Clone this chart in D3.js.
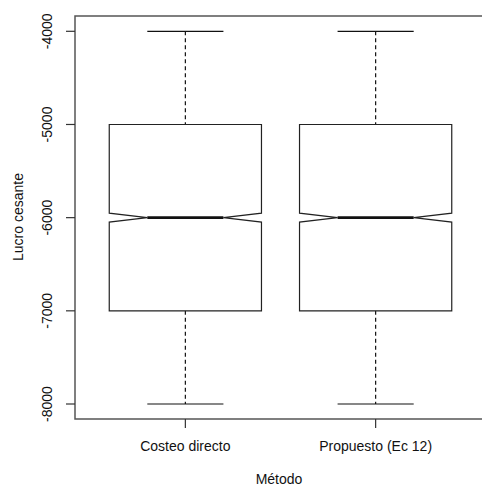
<!DOCTYPE html>
<html><head><meta charset="utf-8">
<script src="https://cdn.jsdelivr.net/npm/d3@7"></script>
<style>body{margin:0;background:#fff}svg{display:block}text{font-family:"Liberation Sans",Arial,sans-serif;fill:#111}</style>
</head><body>
<script>
const categories = ["Costeo directo", "Propuesto (Ec 12)"];
const whiskerLow = [-8000, -8000];
const q1 = [-7000, -7000];
const median = [-6000, -6000];
const q3 = [-5000, -5000];
const whiskerHigh = [-4000, -4000];
const notchHalf = [48, 48];
const yTicks = [-8000, -7000, -6000, -5000, -4000];

const W = 482, H = 486;
const svg = d3.select("body").append("svg").attr("width", W).attr("height", H);
const pLeft = 75, pTop = 16, pBottom = 419, pRight = 486;
const y = d3.scaleLinear().domain([-8000, -4000]).range([404, 31.3]);
const x = d3.scaleLinear().domain([0.42, 2.58]).range([pLeft, pRight]);
const boxHalf = 0.4, capHalf = 0.2;

const data = categories.map((c, i) => ({c, i: i + 1, lo: whiskerLow[i], q1: q1[i], med: median[i], q3: q3[i], hi: whiskerHigh[i], nh: notchHalf[i]}));

const g = svg.append("g");
data.forEach(d => {
  const cx = x(d.i);
  const bl = x(d.i - boxHalf), br = x(d.i + boxHalf);
  const nl = x(d.i - boxHalf / 2), nr = x(d.i + boxHalf / 2);
  g.append("line").attr("x1", cx).attr("x2", cx).attr("y1", y(d.hi)).attr("y2", y(d.q3))
    .attr("stroke", "#111").attr("stroke-width", 1.2).attr("stroke-dasharray", "4,3");
  g.append("line").attr("x1", cx).attr("x2", cx).attr("y1", y(d.q1)).attr("y2", y(d.lo))
    .attr("stroke", "#111").attr("stroke-width", 1.2).attr("stroke-dasharray", "4,3");
  [d.hi, d.lo].forEach(v => {
    g.append("line").attr("x1", x(d.i - capHalf)).attr("x2", x(d.i + capHalf))
      .attr("y1", y(v)).attr("y2", y(v)).attr("stroke", "#111").attr("stroke-width", 1.2);
  });
  const pts = [
    [bl, y(d.q3)], [br, y(d.q3)], [br, y(d.med + d.nh)], [nr, y(d.med)], [br, y(d.med - d.nh)],
    [br, y(d.q1)], [bl, y(d.q1)], [bl, y(d.med - d.nh)], [nl, y(d.med)], [bl, y(d.med + d.nh)]
  ];
  g.append("polygon").attr("points", pts.map(p => p.join(",")).join(" "))
    .attr("fill", "#fff").attr("stroke", "#222").attr("stroke-width", 1.2);
  g.append("line").attr("x1", nl).attr("x2", nr).attr("y1", y(d.med)).attr("y2", y(d.med))
    .attr("stroke", "#111").attr("stroke-width", 2.6);
});

svg.append("rect").attr("x", pLeft).attr("y", pTop).attr("width", pRight - pLeft).attr("height", pBottom - pTop)
  .attr("fill", "none").attr("stroke", "#555").attr("stroke-width", 1.5);

const ya = svg.append("g");
yTicks.forEach(t => {
  ya.append("line").attr("x1", pLeft - 9).attr("x2", pLeft).attr("y1", y(t)).attr("y2", y(t))
    .attr("stroke", "#333").attr("stroke-width", 1.2);
  ya.append("text").attr("transform", `translate(52,${y(t)}) rotate(-90)`)
    .attr("text-anchor", "middle").attr("font-size", 14).text(t);
});
data.forEach(d => {
  svg.append("line").attr("x1", x(d.i)).attr("x2", x(d.i)).attr("y1", pBottom).attr("y2", pBottom + 9)
    .attr("stroke", "#333").attr("stroke-width", 1.2);
  svg.append("text").attr("x", x(d.i)).attr("y", 451).attr("text-anchor", "middle")
    .attr("font-size", 14).text(d.c);
});
svg.append("text").attr("x", 279).attr("y", 484).attr("text-anchor", "middle").attr("font-size", 14).text("Método");
svg.append("text").attr("transform", `translate(23,217) rotate(-90)`).attr("text-anchor", "middle")
  .attr("font-size", 14).text("Lucro cesante");
</script>
</body></html>
